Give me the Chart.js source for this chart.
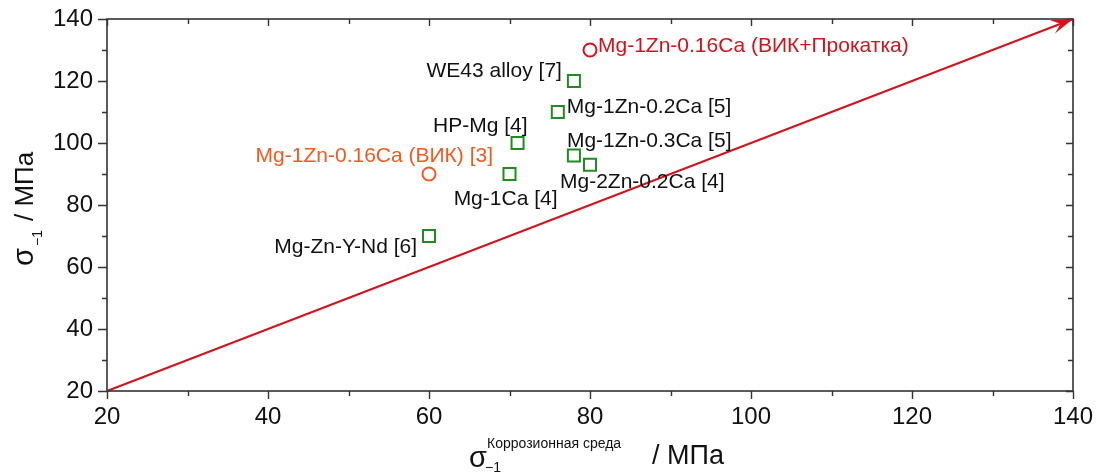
<!DOCTYPE html>
<html>
<head>
<meta charset="utf-8">
<script src="https://cdn.jsdelivr.net/npm/chart.js@4.4.1/dist/chart.umd.min.js"></script>
<style>
  html, body { margin: 0; padding: 0; background: #fff; }
  #wrap { width: 1099px; height: 472px; }
</style>
</head>
<body>
<div id="wrap"><canvas id="fatigueChart" width="1099" height="472"></canvas></div>
<script>
// fatigue limit in air vs. in corrosive medium, MPa
const alloyNames = ['WE43 alloy [7]', 'Mg-1Zn-0.2Ca [5]', 'HP-Mg [4]', 'Mg-1Zn-0.3Ca [5]',
  'Mg-2Zn-0.2Ca [4]', 'Mg-1Ca [4]', 'Mg-Zn-Y-Nd [6]'];
const alloyCorr = [78, 76, 71, 78, 80, 70, 60];
const alloyAir = [120, 110, 100, 96, 93, 90, 70];

const vikName = 'Mg-1Zn-0.16Ca (ВИК) [3]';
const vikCorr = [60];
const vikAir = [90];

const rolledName = 'Mg-1Zn-0.16Ca (ВИК+Прокатка)';
const rolledCorr = [80];
const rolledAir = [130];

// reference line y = x
const diagX = [20, 140];
const diagY = [20, 140];

const axisTicks = [20, 40, 60, 80, 100, 120, 140];

// label anchor relative to its marker: [dx, dy, align]
const alloyLabelPos = [[-12, -4, 'right'], [9, 1, 'left'], [10, -11, 'right'], [-7, -8, 'left'],
  [-30, 23, 'left'], [48, 31, 'right'], [-12, 17, 'right']];
const vikLabelPos = [[64, -12, 'right']];
const rolledLabelPos = [[8, 2, 'left']];

const RED = '#d3121c';
const ORANGE = '#f05a1e';
const GREEN = '#218a21';
const AXIS = '#333333';
const FONT = "'Liberation Sans', Arial, sans-serif";

const toPts = (xs, ys) => xs.map((x, i) => ({ x: x, y: ys[i] }));

const labelPlugin = {
  id: 'pointLabels',
  afterDatasetsDraw(chart) {
    const ctx = chart.ctx;
    ctx.save();
    ctx.font = '21px ' + FONT;
    ctx.textBaseline = 'alphabetic';
    chart.data.datasets.forEach((ds, di) => {
      if (!ds.pointNames) return;
      const meta = chart.getDatasetMeta(di);
      meta.data.forEach((el, i) => {
        const pos = ds.labelPos[i];
        ctx.fillStyle = ds.labelColor;
        ctx.textAlign = pos[2];
        ctx.fillText(ds.pointNames[i], el.x + pos[0], el.y + pos[1]);
      });
    });
    ctx.restore();
  }
};

const framePlugin = {
  id: 'frame',
  afterDraw(chart) {
    const ctx = chart.ctx;
    const a = chart.chartArea;
    const xs = chart.scales.x, ys = chart.scales.y;
    ctx.save();
    ctx.strokeStyle = AXIS;
    ctx.lineWidth = 1.6;
    ctx.strokeRect(a.left, a.top, a.right - a.left, a.bottom - a.top);

    ctx.lineWidth = 1.4;
    ctx.beginPath();
    xs.ticks.forEach(t => {
      const px = Math.round(xs.getPixelForValue(t.value)) + 0.5;
      const major = t.value % 20 === 0;
      ctx.moveTo(px, a.bottom); ctx.lineTo(px, a.bottom + (major ? 8 : 5));
      ctx.moveTo(px, a.top); ctx.lineTo(px, a.top + (major ? 7 : 5));
    });
    ys.ticks.forEach(t => {
      const py = Math.round(ys.getPixelForValue(t.value)) + 0.5;
      const major = t.value % 20 === 0;
      ctx.moveTo(a.left, py); ctx.lineTo(a.left - (major ? 9 : 5), py);
      ctx.moveTo(a.right, py); ctx.lineTo(a.right - (major ? 7 : 5), py);
    });
    ctx.stroke();

    // arrow head at the end of the y = x line
    const tipX = xs.getPixelForValue(diagX[1]);
    const tipY = ys.getPixelForValue(diagY[1]);
    const ang = Math.atan2(tipY - ys.getPixelForValue(diagY[0]), tipX - xs.getPixelForValue(diagX[0]));
    const len = 22, half = 7;
    ctx.fillStyle = RED;
    ctx.beginPath();
    ctx.moveTo(tipX, tipY);
    ctx.lineTo(tipX - len * Math.cos(ang) + half * Math.sin(ang), tipY - len * Math.sin(ang) - half * Math.cos(ang));
    ctx.lineTo(tipX - 0.6 * len * Math.cos(ang), tipY - 0.6 * len * Math.sin(ang));
    ctx.lineTo(tipX - len * Math.cos(ang) - half * Math.sin(ang), tipY - len * Math.sin(ang) + half * Math.cos(ang));
    ctx.closePath();
    ctx.fill();

    // axis titles with sub/superscripts
    ctx.fillStyle = '#111';
    ctx.textBaseline = 'alphabetic';
    ctx.textAlign = 'left';
    ctx.font = '29px ' + FONT;
    ctx.fillText('σ', 469, 467);
    ctx.font = '14px ' + FONT;
    ctx.fillText('Коррозионная среда', 487, 448);
    ctx.fillText('−1', 485, 472);
    ctx.font = '27px ' + FONT;
    ctx.fillText('/ МПа', 652, 464);

    ctx.translate(33, 266);
    ctx.rotate(-Math.PI / 2);
    ctx.font = '29px ' + FONT;
    ctx.fillText('σ', 0, 0);
    ctx.font = '14px ' + FONT;
    ctx.fillText('−1', 20, 9);
    ctx.font = '26px ' + FONT;
    ctx.fillText('/ МПа', 45, 0);
    ctx.restore();
  }
};

const tickFont = { family: FONT, size: 24 };

new Chart(document.getElementById('fatigueChart'), {
  type: 'scatter',
  data: {
    datasets: [
      {
        type: 'line',
        data: toPts(diagX, diagY),
        borderColor: RED,
        borderWidth: 2,
        pointRadius: 0,
        fill: false,
        clip: false
      },
      {
        data: toPts(alloyCorr, alloyAir),
        pointNames: alloyNames,
        labelPos: alloyLabelPos,
        labelColor: '#111',
        pointStyle: 'rect',
        pointRadius: 8.5,
        backgroundColor: 'rgba(0,0,0,0)',
        borderColor: GREEN,
        borderWidth: 2
      },
      {
        data: toPts(vikCorr, vikAir),
        pointNames: [vikName],
        labelPos: vikLabelPos,
        labelColor: ORANGE,
        pointStyle: 'circle',
        pointRadius: 6.5,
        backgroundColor: 'rgba(0,0,0,0)',
        borderColor: ORANGE,
        borderWidth: 2
      },
      {
        data: toPts(rolledCorr, rolledAir),
        pointNames: [rolledName],
        labelPos: rolledLabelPos,
        labelColor: RED,
        pointStyle: 'circle',
        pointRadius: 6.5,
        backgroundColor: 'rgba(0,0,0,0)',
        borderColor: RED,
        borderWidth: 2
      }
    ]
  },
  options: {
    responsive: false,
    animation: false,
    events: [],
    layout: { padding: { left: 0, right: 26, top: 19, bottom: 0 } },
    plugins: { legend: { display: false }, tooltip: { enabled: false } },
    scales: {
      x: {
        type: 'linear',
        min: 20, max: 140,
        afterFit: s => { s.height = 81; s.paddingLeft = 0; s.paddingRight = 0; },
        grid: { display: false, drawTicks: false },
        border: { display: false },
        ticks: {
          stepSize: 10,
          padding: 12,
          color: '#111',
          font: tickFont,
          maxRotation: 0,
          autoSkip: false,
          callback: v => axisTicks.includes(v) ? String(v) : ''
        }
      },
      y: {
        type: 'linear',
        min: 20, max: 140,
        afterFit: s => { s.width = 107; s.paddingTop = 0; s.paddingBottom = 0; },
        grid: { display: false, drawTicks: false },
        border: { display: false },
        ticks: {
          stepSize: 10,
          padding: 14,
          color: '#111',
          font: tickFont,
          autoSkip: false,
          callback: v => axisTicks.includes(v) ? String(v) : ''
        }
      }
    }
  },
  plugins: [labelPlugin, framePlugin]
});
</script>
</body>
</html>
